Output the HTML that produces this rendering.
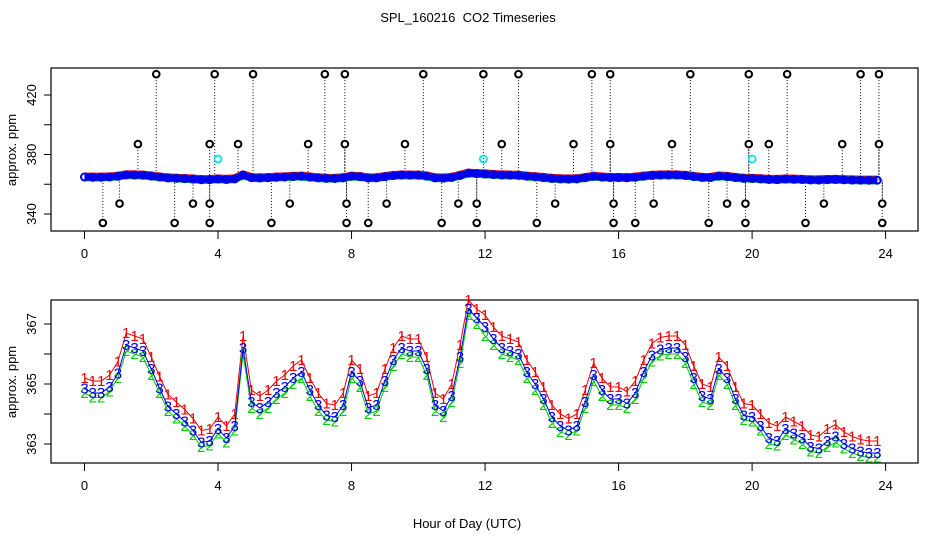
<!DOCTYPE html>
<html><head><meta charset="utf-8"><style>
html,body{margin:0;padding:0;background:#fff;}
svg{display:block;font-family:"Liberation Sans",sans-serif;}
</style></head><body>
<svg id="chart" width="936" height="540" viewBox="0 0 936 540" xmlns="http://www.w3.org/2000/svg">
<text x="468" y="22" font-size="13" text-anchor="middle" style="white-space:pre">SPL_160216  CO2 Timeseries</text>
<text x="467" y="528" font-size="13" text-anchor="middle">Hour of Day (UTC)</text>
<g id="topPanel"></g>
<g id="botPanel"></g>
</svg>
<script>
const hours = [0,0.25,0.5,0.75,1,1.25,1.5,1.75,2,2.25,2.5,2.75,3,3.25,3.5,3.75,4,4.25,4.5,4.75,5,5.25,5.5,5.75,6,6.25,6.5,6.75,7,7.25,7.5,7.75,8,8.25,8.5,8.75,9,9.25,9.5,9.75,10,10.25,10.5,10.75,11,11.25,11.5,11.75,12,12.25,12.5,12.75,13,13.25,13.5,13.75,14,14.25,14.5,14.75,15,15.25,15.5,15.75,16,16.25,16.5,16.75,17,17.25,17.5,17.75,18,18.25,18.5,18.75,19,19.25,19.5,19.75,20,20.25,20.5,20.75,21,21.25,21.5,21.75,22,22.25,22.5,22.75,23,23.25,23.5,23.75];
const series3 = [364.85,364.7,364.7,364.9,365.35,366.3,366.2,366.1,365.5,364.85,364.25,364.0,363.75,363.45,363.05,363.1,363.5,363.2,363.6,366.2,364.4,364.2,364.4,364.7,364.9,365.2,365.4,364.8,364.3,363.95,363.9,364.3,365.4,365.1,364.2,364.3,365.1,365.8,366.2,366.1,366.1,365.5,364.3,364.1,364.6,365.9,367.5,367.2,366.9,366.5,366.2,366.1,366.0,365.4,365.0,364.5,363.9,363.6,363.45,363.6,364.4,365.3,364.8,364.5,364.5,364.35,364.7,365.4,365.95,366.15,366.2,366.2,365.9,365.2,364.6,364.5,365.5,365.2,364.5,363.95,363.9,363.6,363.2,363.1,363.5,363.35,363.2,362.9,362.85,363.1,363.25,363.0,362.85,362.75,362.7,362.7];
const series1 = [365.2,365.1,365.1,365.3,365.75,366.7,366.6,366.5,365.9,365.25,364.65,364.4,364.15,363.85,363.45,363.5,363.9,363.6,364.0,366.6,364.8,364.6,364.8,365.1,365.3,365.6,365.8,365.2,364.7,364.35,364.3,364.7,365.8,365.5,364.6,364.7,365.5,366.2,366.6,366.5,366.5,365.9,364.7,364.5,365.0,366.3,367.8,367.5,367.3,366.9,366.6,366.5,366.4,365.8,365.4,364.9,364.3,364.0,363.85,364.0,364.8,365.7,365.2,364.9,364.9,364.75,365.1,365.8,366.35,366.55,366.6,366.6,366.3,365.6,365.0,364.9,365.9,365.6,364.9,364.35,364.3,364.0,363.7,363.6,363.9,363.75,363.6,363.3,363.25,363.5,363.65,363.4,363.25,363.15,363.1,363.1];
const series2 = [364.7,364.55,364.55,364.75,365.2,366.1,366.0,365.9,365.3,364.7,364.1,363.85,363.6,363.3,362.9,362.95,363.35,363.05,363.45,366.0,364.2,364.0,364.2,364.5,364.7,365.0,365.2,364.6,364.1,363.8,363.75,364.1,365.2,364.9,364.0,364.1,364.9,365.6,366.0,365.9,365.9,365.3,364.1,363.9,364.4,365.7,367.3,367.0,366.6,366.3,366.0,365.9,365.8,365.2,364.8,364.3,363.7,363.4,363.3,363.45,364.2,365.1,364.6,364.3,364.3,364.2,364.5,365.2,365.75,365.95,366.0,366.0,365.7,365.0,364.4,364.3,365.3,365.0,364.3,363.8,363.75,363.45,363.0,362.95,363.3,363.15,363.0,362.75,362.7,362.9,363.05,362.85,362.7,362.6,362.55,362.55];
const outlierHours = [0.55,1.05,1.6,2.15,2.7,3.25,3.75,3.75,3.75,3.9,4.6,5.05,5.6,6.15,6.7,7.2,7.8,7.8,7.85,7.85,8.5,9.05,9.6,10.15,10.7,11.2,11.75,11.75,11.95,12.5,13.0,13.55,14.1,14.65,15.2,15.75,15.75,15.85,15.85,16.5,17.05,17.6,18.15,18.7,19.25,19.8,19.8,19.9,19.9,20.5,21.05,21.6,22.15,22.7,23.25,23.8,23.8,23.9,23.9];
const outlierValues = [334,347,387,434,334,347,334,347,387,434,387,434,334,347,387,434,434,387,347,334,334,347,387,434,334,347,334,347,434,387,434,334,347,387,434,434,387,347,334,334,347,387,434,334,347,334,347,387,434,387,434,334,347,387,434,434,387,347,334];
const cyanHours = [4.0,11.95,20.0];
const cyanValues = [377,377,377];
const xTicks = [0,4,8,12,16,20,24];
const topYTicks = [340,360,380,400,420];
const topYLabels = ["340","","380","","420"];
const botYTicks = [363,364,365,366,367];
const botYLabels = ["363","","365","","367"];

const NS="http://www.w3.org/2000/svg";
function mk(parent,tag,attrs){const e=document.createElementNS(NS,tag);for(const k in attrs)e.setAttribute(k,attrs[k]);parent.appendChild(e);return e;}
const X0=51,X1=918;
function xs(h){return 84.5+h*33.38;}
function yTop(v){return 214-(v-340)*1.4875;}
function yBot(v){return 444-(v-363)*30;}

function axes(g,yTopPx,yBotPx,yfn,ticks,labels,labelY){
  const box=mk(g,'rect',{x:X0,y:yTopPx,width:X1-X0,height:yBotPx-yTopPx,fill:'none',stroke:'#000','stroke-width':1.2});
  
  
  xTicks.forEach(t=>{
    const l=mk(g,'line',{x1:xs(t),x2:xs(t),y1:yBotPx,y2:yBotPx+8,stroke:'#000'});
    
    
    const tx=mk(g,'text',{x:xs(t),y:yBotPx+27,'font-size':13,'text-anchor':'middle'});
    tx.textContent=t;
    
    
  });
  ticks.forEach((v,i)=>{
    const y=yfn(v);
    const l=mk(g,'line',{x1:X0-7,x2:X0,y1:y,y2:y,stroke:'#000'});
    
    
    if(labels[i]){
      const tx=mk(g,'text',{x:0,y:0,'font-size':13,'text-anchor':'middle',transform:`translate(36,${y}) rotate(-90)`});
      tx.textContent=labels[i];
      
      
    }
  });
  const yl=mk(g,'text',{x:0,y:0,'font-size':13,'text-anchor':'middle',transform:`translate(16,${labelY}) rotate(-90)`});
  yl.textContent='approx. ppm';
  
  
}
function pts(arr,yfn){return hours.map((h,i)=>xs(h)+','+yfn(arr[i])).join(' ');}

// TOP PANEL
const topG=document.getElementById('topPanel');
axes(topG,68,231,yTop,topYTicks,topYLabels,150);
outlierHours.forEach((h,i)=>{
  const v=outlierValues[i];
  let k=0;for(let j=0;j<hours.length;j++){if(Math.abs(hours[j]-h)<Math.abs(hours[k]-h))k=j;}
  const base=yTop(series3[k]);
  const l=mk(topG,'line',{x1:xs(h),x2:xs(h),y1:yTop(v),y2:base,stroke:'#000','stroke-width':1,'stroke-dasharray':'1,2'});
  
  
});
const bandR=mk(topG,'polyline',{points:pts(series1,yTop),fill:'none',stroke:'#e00','stroke-width':8,'stroke-linejoin':'round'});


const bandG=mk(topG,'polyline',{points:pts(series2,yTop),fill:'none',stroke:'#0c0','stroke-width':8,'stroke-linejoin':'round'});


const bandB=mk(topG,'polyline',{points:pts(series3,yTop),fill:'none',stroke:'#0000ee','stroke-width':7,'stroke-linejoin':'round'});


hours.forEach((h,i)=>{
  const c=mk(topG,'circle',{cx:xs(h),cy:yTop(series3[i]),r:3.5,fill:'none',stroke:'#0000ee','stroke-width':2});
  
  
});
outlierHours.forEach((h,i)=>{
  const c=mk(topG,'circle',{cx:xs(h),cy:yTop(outlierValues[i]),r:3.3,fill:'#fff',stroke:'#000','stroke-width':2});
  
  
});
cyanHours.forEach((h,i)=>{
  const c=mk(topG,'circle',{cx:xs(h),cy:yTop(cyanValues[i]),r:3.5,fill:'none',stroke:'#00e5ee','stroke-width':1.8});
  
  
});

// BOTTOM PANEL
const botG=document.getElementById('botPanel');
axes(botG,300,463,yBot,botYTicks,botYLabels,382);
[[series1,'#e00','1','series-1'],[series2,'#0c0','2','series-2'],[series3,'#0000ee','3','series-3']].forEach(([arr,col,ch,nm])=>{
  const pl=mk(botG,'polyline',{points:pts(arr,yBot),fill:'none',stroke:col,'stroke-width':1});
  
  
  hours.forEach((h,i)=>{
    const t=mk(botG,'text',{x:xs(h),y:yBot(arr[i])+5,'font-size':15,fill:col,'text-anchor':'middle'});
    t.textContent=ch;
    
    
  });
});
</script>
</body></html>
